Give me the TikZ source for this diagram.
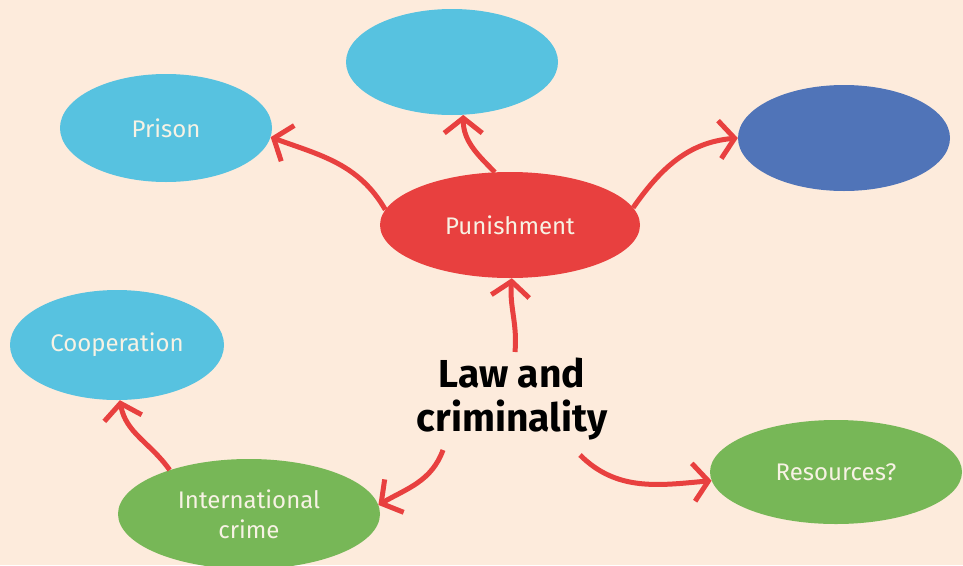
\documentclass[tikz,border=0pt]{standalone}
\usepackage{fontspec}
\setmainfont{Fira Sans}
\usetikzlibrary{arrows.meta,shapes.geometric}
\definecolor{bgc}{HTML}{FDEBDC}
\definecolor{lblue}{HTML}{57C2E0}
\definecolor{dblue}{HTML}{5074B8}
\definecolor{redc}{HTML}{E8403F}
\definecolor{greenc}{HTML}{77B757}
\definecolor{txtc}{HTML}{F7F2E4}
\tikzset{
  bubble/.style={ellipse,inner sep=0pt,text=txtc,font=\fontsize{24}{30}\selectfont,align=center},
  conn/.style={draw=redc,line width=5pt,-{Straight Barb[length=15pt,width=38pt,line width=5pt]}}
}
\begin{document}
\begin{tikzpicture}[x=1pt,y=-1pt]
\useasboundingbox (0,0) rectangle (963,565);
\fill[bgc] (0,0) rectangle (963,565);
\node[bubble,fill=lblue,minimum width=212pt,minimum height=106pt] (top) at (452,62) {};
\node[bubble,fill=lblue,minimum width=212pt,minimum height=108pt] (prison) at (166,128) {Prison};
\node[bubble,fill=dblue,minimum width=212pt,minimum height=106pt] (dark) at (844,138) {};
\node[bubble,fill=redc,minimum width=260pt,minimum height=106pt] (pun) at (510,225) {Punishment};
\node[bubble,fill=lblue,minimum width=214pt,minimum height=110pt] (coop) at (117,345) {Cooperation};
\node[bubble,fill=greenc,minimum width=262pt,minimum height=110pt] (intl) at (249,514) {International\\crime};
\node[bubble,fill=greenc,minimum width=252pt,minimum height=104pt] (res) at (836,472) {Resources?};
\node[font=\fontsize{39}{44}\selectfont\bfseries,align=center,text=black] (law) at (512,399) {Law and\\criminality};
\coordinate (la) at (515,352);
\coordinate (lb) at (443,450);
\coordinate (lc) at (580,455);
\draw[conn] (pun.173) to[out=120,in=-20] (prison.-5);
\draw[conn] (pun.106) to[out=135,in=-90] (top.-78);
\draw[conn] (pun.8) to[out=55,in=185] (dark.west);
\draw[conn] (la) to[out=85,in=-95] (pun.-88);
\draw[conn] (lb) to[out=-110,in=30] (intl.4);
\draw[conn] (intl.151) to[out=125,in=-80] (coop.-87);
\draw[conn] (lc) to[out=-45,in=185] (res.184);
\end{tikzpicture}
\end{document}
